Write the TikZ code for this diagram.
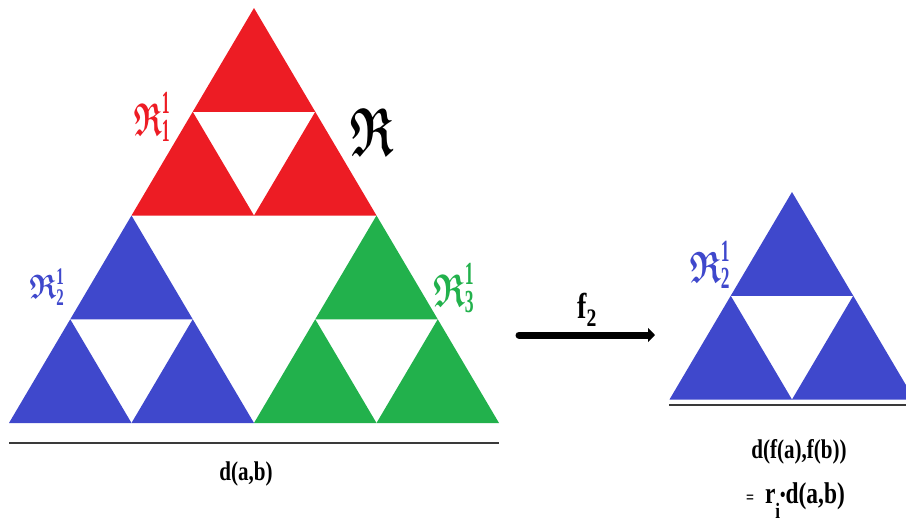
\documentclass[tikz,border=0pt]{standalone}
\usepackage{amsmath,amssymb}
\usepackage{fontspec}
\setmainfont{Liberation Serif}[FakeStretch=0.78]
\usetikzlibrary{positioning,arrows.meta}
\definecolor{gaskred}{HTML}{ED1C24}
\definecolor{gaskblue}{HTML}{3F48CC}
\definecolor{gaskgreen}{HTML}{22B14C}
\definecolor{rulegray}{HTML}{3A3A3A}
\newcommand{\frR}{\boldsymbol{\mathfrak{R}}}
\tikzset{
    gasket/.pic={
        \foreach \dx/\dy in {0/0,-61.25/103.75,61.25/103.75}
            \fill[#1] (\dx,\dy) -- ++(-61.25,103.75) -- ++(122.5,0) -- cycle;
    },
    ruler/.style={draw=rulegray,line width=2.4pt},
    mapto/.style={line width=7pt,line cap=round,-{Triangle[width=14pt,length=7pt]}},
    txt/.style={inner sep=0pt,font=\fontsize{27}{30}\selectfont\bfseries},
    flabel/.style={inner sep=0pt},
}

\begin{document}
\begin{tikzpicture}[x=1pt,y=-1pt]
    \useasboundingbox (0,0) rectangle (906,522);

    % the whole set and its three parts
    \pic at (254,8) {gasket=gaskred};
    \pic at (131.5,215.5) {gasket=gaskblue};
    \pic at (376.5,215.5) {gasket=gaskgreen};
    % image of the map
    \pic at (792,192) {gasket=gaskblue};

    \node[flabel,text=gaskred,font=\fontsize{46}{50}\selectfont,xscale=0.62] (r1) at (153,117) {$\frR^{\mathbf{1}}_{\mathbf{1}}$};
    \node[flabel,font=\fontsize{68}{72}\selectfont,xscale=0.65] (r) at (372,132) {$\frR$};
    \node[flabel,text=gaskblue,font=\fontsize{34}{38}\selectfont,xscale=0.8] (r2) at (48,287) {$\frR^{\mathbf{1}}_{\mathbf{2}}$};
    \node[flabel,text=gaskgreen,font=\fontsize{46}{50}\selectfont,xscale=0.7] (r3) at (455,288) {$\frR^{\mathbf{1}}_{\mathbf{3}}$};
    \node[flabel,text=gaskblue,font=\fontsize{44}{48}\selectfont,xscale=0.72] (r2b) at (711,265) {$\frR^{\mathbf{1}}_{\mathbf{2}}$};

    % distances
    \coordinate (bl) at (9,443);
    \coordinate (br) at (499,443);
    \draw[ruler] (bl) -- (br);
    \node[txt] (dab) at (246,474) {d(a,b)};

    \coordinate (sl) at (669,405);
    \coordinate (sr) at (920,405);
    \draw[ruler] (sl) -- (sr);
    \node[txt] (dfab) at (799,452) {d(f(a),f(b))};
    \node[txt,font=\fontsize{30}{34}\selectfont\bfseries,anchor=base west] (rdab) at (746,503) {{\fontsize{18}{20}\selectfont=}\, r\raisebox{-0.5em}{\fontsize{22}{24}\selectfont i}\raisebox{0.05em}{\fontsize{20}{22}\selectfont\textbullet}d(a,b)};

    % the map
    \coordinate (fa) at (519,335);
    \coordinate (fb) at (655,335);
    \draw[mapto] (fa) -- (fb);
    \node[txt,font=\fontsize{36}{40}\selectfont\bfseries] (f2) at (587,310) {f\textsubscript{2}};
\end{tikzpicture}
\end{document}
